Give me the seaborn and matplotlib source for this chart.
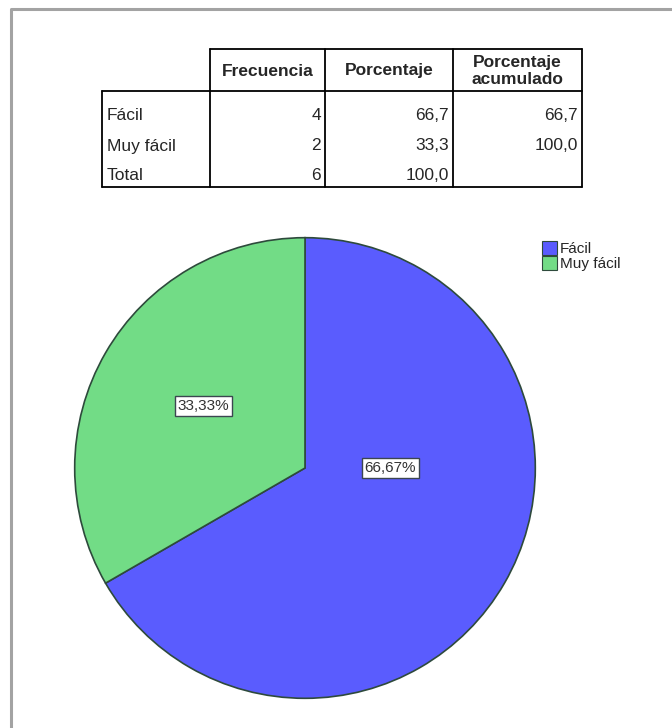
import matplotlib
matplotlib.use("Agg")
import matplotlib.pyplot as plt
from matplotlib.patches import Patch
import seaborn as sns

# datos de la tabla de frecuencias
categorias = ["Fácil", "Muy fácil"]
frecuencia = [4, 2]
porcentaje = [66.7, 33.3]
acumulado = [66.7, 100.0]
total_frec = 6
total_pct = 100.0
etiquetas_pie = ["66,67%", "33,33%"]
columnas = ["Frecuencia", "Porcentaje", "Porcentaje\nacumulado"]

colores = ["#5a5cfe", "#72dc86"]
borde = "#2e4a3c"

sns.set_style("white")
plt.rcParams["font.family"] = ["Liberation Sans", "DejaVu Sans"]


def coma(v):
    return f"{v:.1f}".replace(".", ",")


fig = plt.figure(figsize=(6.72, 7.28), dpi=100)

# capa en pixeles para el marco y la tabla
lay = fig.add_axes([0, 0, 1, 1])
lay.set_xlim(0, 672)
lay.set_ylim(728, 0)
lay.axis("off")
lay.patch.set_alpha(0)

# marco gris exterior
lay.plot([11, 11, 672], [728, 9, 9], color="#a3a3a3", lw=2.2, solid_capstyle="butt")

# tabla
xs = [102, 210, 325, 453, 582]
y_top, y_head, y_bot = 49, 91, 187
lk = dict(color="black", lw=1.3)
lay.plot([xs[1], xs[4]], [y_top, y_top], **lk)
lay.plot([xs[0], xs[4]], [y_head, y_head], **lk)
lay.plot([xs[0], xs[4]], [y_bot, y_bot], **lk)
lay.plot([xs[0], xs[0]], [y_head, y_bot], **lk)
for x in xs[1:]:
    lay.plot([x, x], [y_top, y_bot], **lk)

fs = 12.5
for i, c in enumerate(columnas):
    lay.text((xs[i + 1] + xs[i + 2]) / 2, (y_top + y_head) / 2 + 1, c,
             ha="center", va="center", fontsize=fs, fontweight="bold",
             linespacing=1.1)

filas_y = [115, 146, 176]
filas = [
    (categorias[0], str(frecuencia[0]), coma(porcentaje[0]), coma(acumulado[0])),
    (categorias[1], str(frecuencia[1]), coma(porcentaje[1]), coma(acumulado[1])),
    ("Total", str(total_frec), coma(total_pct), ""),
]
for y, fila in zip(filas_y, filas):
    lay.text(xs[0] + 5, y, fila[0], ha="left", va="center", fontsize=fs)
    for j, val in enumerate(fila[1:]):
        lay.text(xs[j + 2] - 4, y, val, ha="right", va="center", fontsize=fs)

# grafico de sectores
ax = fig.add_axes([74 / 672, 29 / 728, 462 / 672, 462 / 728])
ax.pie(frecuencia, colors=colores, startangle=90, counterclock=False,
       wedgeprops=dict(edgecolor=borde, linewidth=1.2))
ax.set_xlim(-1.003, 1.003)
ax.set_ylim(-1.003, 1.003)
ax.set_aspect("equal")

pos_etq = [(0.37, 0.0), (-0.44, 0.27)]
for (x, y), t in zip(pos_etq, etiquetas_pie):
    ax.text(x, y, t, ha="center", va="center", fontsize=11, color="#333333",
            bbox=dict(boxstyle="square,pad=0.18", facecolor="white",
                      edgecolor="#3c4650", linewidth=1))

handles = [Patch(facecolor=c, edgecolor=borde, linewidth=0.8) for c in colores]
fig.legend(handles, categorias, loc="upper left",
           bbox_to_anchor=(536 / 672, 1 - 235 / 728), frameon=False,
           fontsize=11, handlelength=1.0, handleheight=1.0,
           handletextpad=0.15, labelspacing=0.0, borderaxespad=0)

fig.savefig("out.png", dpi=100)
